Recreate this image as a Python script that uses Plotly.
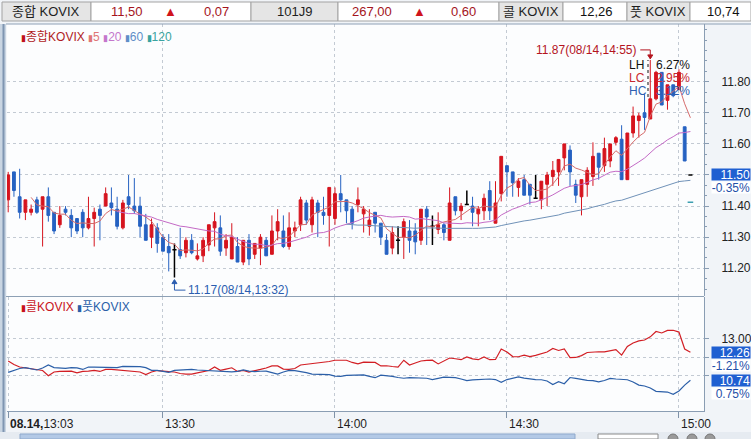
import plotly.graph_objects as go
import pandas as pd

W, H = 751, 439
FONT = "Liberation Sans, Noto Sans CJK KR"

# 1분봉: x = minutes after 13:00 (13:03 ~ 15:02)
minutes = list(range(3, 123))
opens = [11.42, 11.51, 11.43, 11.38, 11.38, 11.42, 11.39, 11.43, 11.38, 11.34,
         11.39, 11.37, 11.36, 11.38, 11.33, 11.36, 11.39, 11.40, 11.41, 11.39,
         11.33, 11.43, 11.40, 11.40, 11.34, 11.30, 11.33, 11.30, 11.27, 11.26,
         11.26, 11.25, 11.29, 11.23, 11.24, 11.275, 11.33, 11.33, 11.265, 11.23,
         11.27, 11.22, 11.29, 11.245, 11.265, 11.29, 11.245, 11.32, 11.32, 11.27,
         11.32, 11.34, 11.41, 11.34, 11.41, 11.38, 11.37, 11.36, 11.44, 11.42,
         11.39, 11.405, 11.375, 11.335, 11.38, 11.345, 11.29, 11.265, 11.29, 11.30,
         11.32, 11.32, 11.29, 11.39, 11.335, 11.325, 11.34, 11.29, 11.43, 11.385,
         11.405, 11.40, 11.375, 11.385, 11.45, 11.345, 11.44, 11.53, 11.51, 11.46,
         11.485, 11.47, 11.425, 11.42, 11.47, 11.495, 11.51, 11.555, 11.58, 11.47,
         11.43, 11.47, 11.495, 11.57, 11.53, 11.545, 11.605, 11.615, 11.485, 11.635,
         11.675, 11.70, 11.68, 11.745, 11.83, 11.74, 11.79, 11.775, 11.655, 11.50]
highs = [11.51, 11.51, 11.52, 11.42, 11.405, 11.43, 11.43, 11.46, 11.38, 11.40,
         11.40, 11.39, 11.36, 11.39, 11.43, 11.395, 11.405, 11.46, 11.46, 11.43,
         11.42, 11.50, 11.49, 11.43, 11.375, 11.36, 11.345, 11.31, 11.31, 11.28,
         11.33, 11.30, 11.31, 11.28, 11.30, 11.34, 11.38, 11.37, 11.31, 11.345,
         11.30, 11.29, 11.31, 11.28, 11.31, 11.30, 11.37, 11.39, 11.37, 11.38,
         11.35, 11.43, 11.42, 11.43, 11.42, 11.43, 11.46, 11.46, 11.50, 11.42,
         11.40, 11.46, 11.40, 11.39, 11.38, 11.345, 11.31, 11.335, 11.335, 11.36,
         11.355, 11.345, 11.39, 11.40, 11.37, 11.38, 11.345, 11.46, 11.43, 11.41,
         11.45, 11.43, 11.40, 11.44, 11.48, 11.48, 11.56, 11.53, 11.51, 11.49,
         11.50, 11.47, 11.50, 11.48, 11.51, 11.545, 11.55, 11.60, 11.595, 11.485,
         11.485, 11.525, 11.605, 11.57, 11.62, 11.60, 11.625, 11.66, 11.635, 11.72,
         11.70, 11.76, 11.87, 11.835, 11.83, 11.79, 11.79, 11.84, 11.655, 11.50]
lows = [11.38, 11.43, 11.36, 11.355, 11.37, 11.375, 11.27, 11.35, 11.31, 11.33,
        11.37, 11.30, 11.31, 11.30, 11.325, 11.27, 11.29, 11.40, 11.37, 11.325,
        11.325, 11.39, 11.375, 11.30, 11.29, 11.265, 11.25, 11.255, 11.19, 11.17,
        11.23, 11.235, 11.245, 11.225, 11.22, 11.255, 11.27, 11.24, 11.24, 11.23,
        11.22, 11.21, 11.21, 11.23, 11.21, 11.24, 11.245, 11.29, 11.265, 11.26,
        11.30, 11.32, 11.34, 11.315, 11.30, 11.34, 11.27, 11.34, 11.38, 11.345,
        11.325, 11.38, 11.315, 11.305, 11.315, 11.275, 11.245, 11.245, 11.245, 11.23,
        11.25, 11.245, 11.275, 11.275, 11.275, 11.31, 11.29, 11.29, 11.37, 11.355,
        11.405, 11.335, 11.335, 11.355, 11.355, 11.345, 11.415, 11.43, 11.43, 11.43,
        11.435, 11.405, 11.425, 11.39, 11.40, 11.465, 11.465, 11.515, 11.465, 11.41,
        11.37, 11.43, 11.465, 11.485, 11.51, 11.525, 11.595, 11.485, 11.485, 11.62,
        11.62, 11.645, 11.68, 11.74, 11.725, 11.71, 11.75, 11.775, 11.545, 11.50]
closes = [11.50, 11.45, 11.38, 11.42, 11.39, 11.38, 11.43, 11.37, 11.32, 11.37,
          11.38, 11.33, 11.32, 11.33, 11.36, 11.38, 11.37, 11.44, 11.395, 11.335,
          11.41, 11.405, 11.385, 11.335, 11.29, 11.34, 11.28, 11.255, 11.25, 11.26,
          11.24, 11.29, 11.25, 11.24, 11.29, 11.34, 11.35, 11.255, 11.29, 11.30,
          11.22, 11.29, 11.23, 11.28, 11.30, 11.24, 11.32, 11.35, 11.27, 11.33,
          11.33, 11.42, 11.355, 11.42, 11.38, 11.37, 11.46, 11.44, 11.42, 11.385,
          11.345, 11.42, 11.39, 11.355, 11.345, 11.30, 11.245, 11.315, 11.29, 11.35,
          11.29, 11.285, 11.39, 11.365, 11.335, 11.34, 11.315, 11.41, 11.385, 11.40,
          11.405, 11.38, 11.39, 11.425, 11.385, 11.41, 11.56, 11.51, 11.475, 11.48,
          11.435, 11.435, 11.425, 11.48, 11.50, 11.515, 11.55, 11.60, 11.51, 11.435,
          11.485, 11.515, 11.56, 11.525, 11.585, 11.60, 11.62, 11.485, 11.635, 11.69,
          11.69, 11.685, 11.745, 11.83, 11.725, 11.79, 11.755, 11.83, 11.545, 11.50]

call_kovix = [11.79, 11.60, 11.46, 11.41, 11.38, 11.35, 11.27, 10.99, 11.19, 11.22,
              11.24, 11.24, 11.14, 11.22, 11.24, 11.28, 11.22, 11.33, 11.33, 11.30,
              11.27, 11.22, 11.19, 11.19, 11.05, 11.19, 11.27, 11.22, 11.21, 11.19,
              11.11, 11.08, 11.08, 11.14, 11.19, 11.27, 11.46, 11.28, 11.35, 11.42,
              11.22, 11.27, 11.19, 11.24, 11.33, 11.41, 11.52, 11.52, 11.35, 11.33,
              11.38, 11.57, 11.61, 11.63, 11.65, 11.73, 11.76, 11.83, 11.83, 11.83,
              11.71, 11.63, 11.73, 11.72, 11.71, 11.52, 11.53, 11.49, 11.46, 11.83,
              11.57, 11.68, 11.79, 11.82, 11.83, 11.63, 11.79, 11.95, 11.91, 11.86,
              12.01, 11.90, 11.86, 12.01, 11.86, 11.87, 12.44, 12.28, 12.03, 12.02,
              12.11, 12.03, 12.09, 12.18, 12.28, 12.47, 12.36, 12.44, 11.97, 11.98,
              12.08, 12.25, 12.28, 12.29, 12.28, 12.33, 12.41, 12.11, 12.58, 12.77,
              12.88, 12.93, 13.10, 13.39, 13.31, 13.45, 13.46, 13.36, 12.44, 12.26]
put_kovix = [11.17, 11.27, 11.38, 11.43, 11.35, 11.30, 11.41, 11.57, 11.43, 11.41,
             11.39, 11.43, 11.41, 11.33, 11.46, 11.46, 11.46, 11.45, 11.43, 11.43,
             11.50, 11.50, 11.50, 11.48, 11.43, 11.28, 11.28, 11.24, 11.17, 11.28,
             11.30, 11.34, 11.33, 11.30, 11.28, 11.26, 11.24, 11.24, 11.24, 11.20,
             11.22, 11.30, 11.24, 11.21, 11.23, 11.24, 11.16, 11.08, 11.19, 11.28,
             11.26, 11.22, 11.16, 11.08, 11.07, 11.07, 11.05, 10.97, 10.95, 11.01,
             11.03, 11.03, 11.03, 10.95, 10.88, 11.02, 11.00, 10.95, 10.89, 10.85,
             10.88, 10.86, 10.85, 10.85, 10.78, 10.84, 10.91, 10.90, 10.88, 10.81,
             10.72, 10.76, 10.79, 10.81, 10.81, 10.78, 10.63, 10.78, 10.86, 10.92,
             10.86, 10.81, 10.78, 10.77, 10.70, 10.51, 10.66, 10.55, 10.89, 10.84,
             10.77, 10.74, 10.72, 10.65, 10.73, 10.84, 10.81, 10.77, 10.77, 10.65,
             10.48, 10.43, 10.32, 10.14, 10.12, 10.10, 9.98, 10.16, 10.48, 10.74]

axis_ticks = [3, 30, 60, 90, 120]
axis_labels = ["13:03", "13:30", "14:00", "14:30", "15:00"]
price_ticks = [11.2, 11.3, 11.4, 11.5, 11.6, 11.7, 11.8]
vix_ticks = [11, 12, 13]

header_labels = ["종합 KOVIX", "101J9", "콜 KOVIX", "풋 KOVIX"]
header_prices = ["11,50", "267,00", "12,26", "10,74"]
header_changes = ["0,07", "0,60"]

chg_main = "-0.35%"
chg_call = "-1.21%"
chg_put = "0.75%"

RED = "#d6141e"
BLUE = "#2662c2"


def px(x):
    return x / W


def py(y):
    return 1 - y / H


def hhmm(m):
    return f"{13 + m // 60}:{m % 60:02d}"


df = pd.DataFrame({"t": minutes, "o": opens, "h": highs, "l": lows, "c": closes})
doji = df[df.o == df.c]
body = df[df.o != df.c]
ma5 = df.c.rolling(5).mean()
ma20 = df.c.rolling(20).mean()
ma60 = df.c.rolling(60).mean()
ma120 = df.c.rolling(120).mean()

fig = go.Figure()
fig.add_trace(go.Candlestick(
    x=body.t, open=body.o, high=body.h, low=body.l, close=body.c,
    increasing=dict(line=dict(color=RED, width=1), fillcolor=RED),
    decreasing=dict(line=dict(color=BLUE, width=1), fillcolor=BLUE),
    hoverinfo="skip", xaxis="x", yaxis="y"))
fig.add_trace(go.Ohlc(
    x=doji.t, open=doji.o, high=doji.h, low=doji.l, close=doji.c, tickwidth=0.06,
    increasing=dict(line=dict(color="#000000", width=1.5)),
    decreasing=dict(line=dict(color="#000000", width=1.5)),
    hoverinfo="skip", xaxis="x", yaxis="y"))
for ma, col in [(ma5, "#d66b6b"), (ma20, "#c46ac6"), (ma60, "#7092b8")]:
    fig.add_trace(go.Scatter(x=df.t, y=ma, mode="lines", line=dict(color=col, width=1),
                             hoverinfo="skip", xaxis="x", yaxis="y"))
fig.add_trace(go.Scatter(x=df.t, y=ma120, mode="markers",
                         marker=dict(symbol="line-ew", size=4, line=dict(color="#3c9fb0", width=1.5)),
                         hoverinfo="skip", xaxis="x", yaxis="y"))

fig.add_trace(go.Scatter(x=minutes, y=call_kovix, mode="lines", line=dict(color="#d21e24", width=1.2),
                         hoverinfo="skip", xaxis="x2", yaxis="y2"))
fig.add_trace(go.Scatter(x=minutes, y=put_kovix, mode="lines", line=dict(color="#2b5fa8", width=1.2),
                         hoverinfo="skip", xaxis="x2", yaxis="y2"))

xr = [2.79, 124.37]
grid = dict(showgrid=True, gridcolor="#c3cad3", griddash="dot", gridwidth=1, zeroline=False)
fig.update_layout(
    width=W, height=H, margin=dict(l=0, r=0, t=0, b=0),
    paper_bgcolor="#f1f4f8", plot_bgcolor="#fcfdfe", showlegend=False,
    font=dict(family=FONT, size=12, color="#222222"),
    xaxis=dict(domain=[px(7), px(704)], range=xr, tickvals=axis_ticks[1:], showticklabels=False,
               ticks="", anchor="y", rangeslider=dict(visible=False), **grid),
    xaxis2=dict(domain=[px(7), px(704)], range=xr, tickvals=axis_ticks, showticklabels=False,
                ticks="outside", ticklen=6, tickcolor="#7f92a8", anchor="y2", matches="x",
                showline=True, linecolor="#8a9db3", rangeslider=dict(visible=False), **grid),
    yaxis=dict(domain=[py(296), py(24)], range=[11.1109, 11.9855], side="right", anchor="x",
               tickvals=price_ticks, ticktext=["" if v == 11.5 else f"{v:.2f}" for v in price_ticks],
               ticks="outside", ticklen=4, tickcolor="#8a9db3", ticklabelstandoff=10,
               showline=True, linecolor="#8a9db3",
               minor=dict(ticks="outside", ticklen=2, dtick=0.1 / 3, tick0=11.2, tickcolor="#8a9db3"),
               **grid),
    yaxis2=dict(domain=[py(411), py(297)], range=[9.071, 15.266], side="right", anchor="x2",
                tickvals=vix_ticks, ticktext=["", "", "13.00"],
                ticks="outside", ticklen=4, tickcolor="#8a9db3", ticklabelstandoff=10,
                showline=True, linecolor="#8a9db3", **grid),
)

shapes = []
# header cells
cells = [(2, 91, True), (91, 251, False), (251, 338, True), (338, 499, False),
         (499, 563, True), (563, 627, False), (627, 690, True), (690, 751, False)]
for x0, x1, gray in cells:
    shapes.append(dict(type="rect", xref="paper", yref="paper", x0=px(x0), x1=px(x1), y0=py(21), y1=py(2),
                       fillcolor="#e5e5e5" if gray else "#ffffff", line=dict(color="#a3a3a3", width=1)))
# window frame
shapes += [
    dict(type="rect", xref="paper", yref="paper", x0=0, x1=px(6), y0=py(432), y1=py(24),
         fillcolor="#c9d5e2", line=dict(width=0)),
    dict(type="line", xref="paper", yref="paper", x0=px(3.5), x1=px(3.5), y0=py(432), y1=py(24),
         line=dict(color="#7f95b1", width=2)),
    dict(type="line", xref="paper", yref="paper", x0=px(6), x1=1, y0=py(24), y1=py(24),
         line=dict(color="#8da0b5", width=1)),
    dict(type="line", xref="paper", yref="paper", x0=px(6), x1=px(704), y0=py(296.5), y1=py(296.5),
         line=dict(color="#8da0b5", width=1)),
    dict(type="rect", xref="paper", yref="paper", x0=0, x1=1, y0=0, y1=py(432),
         fillcolor="#e6ebf1", line=dict(width=0)),
    dict(type="rect", xref="paper", yref="paper", x0=px(20), x1=px(575), y0=0, y1=py(434),
         fillcolor="#b3c9e6", line=dict(color="#8fa9cc", width=1)),
    dict(type="rect", xref="paper", yref="paper", x0=px(598), x1=px(658), y0=0, y1=py(434),
         fillcolor="#ffffff", line=dict(color="#8a8a8a", width=1)),
]
for cx in [673, 692, 710]:
    shapes.append(dict(type="circle", xref="paper", yref="paper", x0=px(cx - 5), x1=px(cx + 5),
                       y0=py(444), y1=py(434), fillcolor="#9a9a9a", line=dict(color="#777777", width=1)))

# high / low markers
hi_i = df.h.idxmax()
lo_i = df.l.idxmin()
hi_t, hi_v = int(df.t[hi_i]), df.h[hi_i]
lo_t, lo_v = int(df.t[lo_i]), df.l[lo_i]
last = closes[-1]
shapes += [
    dict(type="path", xref="x", yref="y", xsizemode="pixel", ysizemode="pixel",
         xanchor=hi_t, yanchor=hi_v, path="M -10,10 L 0,10 L 0,4", line=dict(color="#b4141e", width=1)),
    dict(type="path", xref="x", yref="y", xsizemode="pixel", ysizemode="pixel",
         xanchor=hi_t, yanchor=hi_v, path="M -2.5,5 L 2.5,5 L 0,1 Z", fillcolor="#b4141e",
         line=dict(color="#b4141e", width=1)),
    dict(type="path", xref="x", yref="y", xsizemode="pixel", ysizemode="pixel",
         xanchor=lo_t, yanchor=lo_v, path="M 0,-4 L 0,-12.5 L 11,-12.5", line=dict(color="#2b5db0", width=1)),
    dict(type="path", xref="x", yref="y", xsizemode="pixel", ysizemode="pixel",
         xanchor=lo_t, yanchor=lo_v, path="M -2.5,-6 L 2.5,-6 L 0,-2 Z", fillcolor="#2b5db0",
         line=dict(color="#2b5db0", width=1)),
    dict(type="line", xref="paper", yref="paper", x0=px(648), x1=px(648), y0=py(97), y1=py(60),
         line=dict(color="#111111", width=1, dash="dot")),
]
fig.update_layout(shapes=shapes)

ann = []


def text(x, y, s, color="#222222", size=12, xanchor="center", **kw):
    ann.append(dict(xref="paper", yref="paper", x=px(x), y=py(y), text=s, showarrow=False,
                    xanchor=xanchor, yanchor="middle", font=dict(family=FONT, size=size, color=color), **kw))


# header texts
for s, cx in zip(header_labels, [46, 294, 531, 658]):
    text(cx, 12, s, "#1e1e1e", size=13)
for s, cx, col in zip(header_prices, [127, 372, 596, 723], ["#a4141c", "#a4141c", "#111111", "#111111"]):
    text(cx, 12, s, col, size=13)
for s, cx, tx in zip(header_changes, [217, 464], [170, 419]):
    text(tx, 12, "▲", "#d0141c", size=13)
    text(cx, 12, s, "#a4141c", size=13)

# legends
ma_legend = ("<span style='color:#c0141c;font-size:9px'>▮</span><span style='color:#b01c24'>종합KOVIX</span> "
             "<span style='color:#e07676;font-size:9px'>▮</span><span style='color:#e07676'>5</span> "
             "<span style='color:#c477cc;font-size:9px'>▮</span><span style='color:#c477cc'>20</span> "
             "<span style='color:#5f8ec8;font-size:9px'>▮</span><span style='color:#5f8ec8'>60</span> "
             "<span style='color:#3aa3a0;font-size:9px'>▮</span><span style='color:#3aa3a0'>120</span>")
text(19, 37, ma_legend, xanchor="left", size=12)
vix_legend = ("<span style='color:#c8141c;font-size:9px'>▮</span><span style='color:#c8141c'>콜KOVIX</span> "
              "<span style='color:#2b5fa8;font-size:9px'>▮</span><span style='color:#2b5fa8'>풋KOVIX</span>")
text(19, 307, vix_legend, xanchor="left", size=12)

# high / low labels
ann.append(dict(xref="x", yref="y", x=hi_t, y=hi_v, text=f"{hi_v:.2f}(08/14,{hhmm(hi_t)})", showarrow=False,
                xanchor="right", yanchor="middle", xshift=-11, yshift=10,
                font=dict(family=FONT, size=12, color="#b4141e")))
ann.append(dict(xref="x", yref="y", x=lo_t, y=lo_v, text=f"{lo_v:.2f}(08/14,{hhmm(lo_t)})", showarrow=False,
                xanchor="left", yanchor="middle", xshift=12, yshift=-12.5,
                font=dict(family=FONT, size=12, color="#2b5db0")))

# LH / LC / HC block
lh = (hi_v - lo_v) / lo_v * 100
lc = (last - lo_v) / lo_v * 100
hc = (hi_v - last) / hi_v * 100
for (lab, val, col), yy in zip([("LH", lh, "#111111"), ("LC", lc, "#c8282d"), ("HC", hc, "#2f5fb0")],
                               [65, 78, 91]):
    text(627, yy, lab, col, xanchor="left")
    text(692, yy, f"{val:.2f}%", col, xanchor="right")

# x axis labels
for t, s in zip(axis_ticks, axis_labels):
    lab = f"<b>08.14,</b>{s}" if t == axis_ticks[0] else s
    ann.append(dict(xref="x2", yref="paper", x=t, y=py(424), text=lab, showarrow=False,
                    xanchor="left", yanchor="middle", xshift=0,
                    font=dict(family=FONT, size=12, color="#1e1e1e")))

# current value boxes on right axis


def box(yref, v, s, bg, fg, yshift=0):
    ann.append(dict(xref="paper", yref=yref, x=px(711), y=v, text=s, showarrow=False,
                    xanchor="left", yanchor="middle", yshift=yshift, align="right",
                    width=38, height=11, borderpad=0, bgcolor=bg,
                    font=dict(family=FONT, size=12, color=fg)))


box("y", last, f"{last:.2f}", "#1f5fd1", "#ffffff")
box("y", last, chg_main, "#ffffff", "#1f4fa8", yshift=-12.5)
box("y2", call_kovix[-1], f"{call_kovix[-1]:.2f}", "#1f5fd1", "#ffffff")
box("y2", call_kovix[-1], chg_call, "#ffffff", "#1f4fa8", yshift=-13)
box("y2", put_kovix[-1], f"{put_kovix[-1]:.2f}", "#1f5fd1", "#ffffff")
box("y2", put_kovix[-1], chg_put, "#ffffff", "#1f4fa8", yshift=-13)

fig.update_layout(annotations=ann)
fig.write_html("out.html", config={"displayModeBar": False},
               post_script="document.body.style.margin='0';")
